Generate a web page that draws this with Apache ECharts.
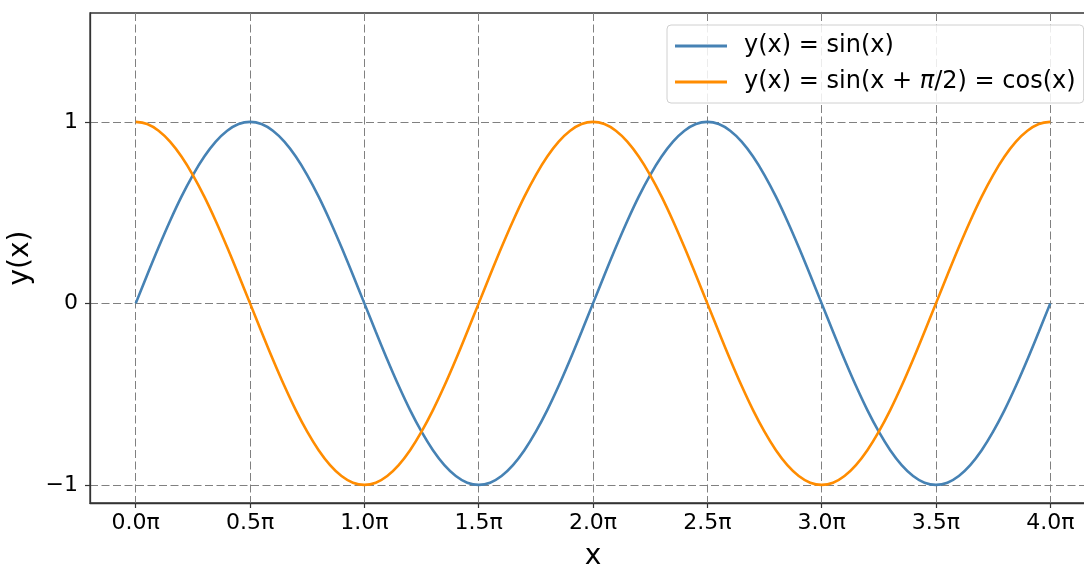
<!DOCTYPE html>
<html>
<head>
<meta charset="utf-8">
<script src="https://cdn.jsdelivr.net/npm/echarts@6/dist/echarts.min.js"></script>
<style>
html,body{margin:0;padding:0;background:#fff;overflow:hidden;}
#chart{width:1084px;height:567px;}
</style>
</head>
<body>
<div id="chart"></div>
<script>
// x positions in units of pi
const xPi = [0,0.05,0.1,0.15,0.2,0.25,0.3,0.35,0.4,0.45,0.5,0.55,0.6,0.65,0.7,0.75,0.8,0.85,0.9,0.95,
  1,1.05,1.1,1.15,1.2,1.25,1.3,1.35,1.4,1.45,1.5,1.55,1.6,1.65,1.7,1.75,1.8,1.85,1.9,1.95,
  2,2.05,2.1,2.15,2.2,2.25,2.3,2.35,2.4,2.45,2.5,2.55,2.6,2.65,2.7,2.75,2.8,2.85,2.9,2.95,
  3,3.05,3.1,3.15,3.2,3.25,3.3,3.35,3.4,3.45,3.5,3.55,3.6,3.65,3.7,3.75,3.8,3.85,3.9,3.95,4];
const sinValues = [0,0.156,0.309,0.454,0.588,0.707,0.809,0.891,0.951,0.988,1,0.988,0.951,0.891,0.809,0.707,0.588,0.454,0.309,0.156,
  0,-0.156,-0.309,-0.454,-0.588,-0.707,-0.809,-0.891,-0.951,-0.988,-1,-0.988,-0.951,-0.891,-0.809,-0.707,-0.588,-0.454,-0.309,-0.156,
  0,0.156,0.309,0.454,0.588,0.707,0.809,0.891,0.951,0.988,1,0.988,0.951,0.891,0.809,0.707,0.588,0.454,0.309,0.156,
  0,-0.156,-0.309,-0.454,-0.588,-0.707,-0.809,-0.891,-0.951,-0.988,-1,-0.988,-0.951,-0.891,-0.809,-0.707,-0.588,-0.454,-0.309,-0.156,0];
const cosValues = [1,0.988,0.951,0.891,0.809,0.707,0.588,0.454,0.309,0.156,0,-0.156,-0.309,-0.454,-0.588,-0.707,-0.809,-0.891,-0.951,-0.988,
  -1,-0.988,-0.951,-0.891,-0.809,-0.707,-0.588,-0.454,-0.309,-0.156,0,0.156,0.309,0.454,0.588,0.707,0.809,0.891,0.951,0.988,
  1,0.988,0.951,0.891,0.809,0.707,0.588,0.454,0.309,0.156,0,-0.156,-0.309,-0.454,-0.588,-0.707,-0.809,-0.891,-0.951,-0.988,
  -1,-0.988,-0.951,-0.891,-0.809,-0.707,-0.588,-0.454,-0.309,-0.156,0,0.156,0.309,0.454,0.588,0.707,0.809,0.891,0.951,0.988,1];
const seriesNames = ['y(x) = sin(x)', 'y(x) = sin(x + \u03C0/2) = cos(x)'];
const xTickValues = [0,0.5,1,1.5,2,2.5,3,3.5,4];
const xTickLabels = ['0.0\u03C0','0.5\u03C0','1.0\u03C0','1.5\u03C0','2.0\u03C0','2.5\u03C0','3.0\u03C0','3.5\u03C0','4.0\u03C0'];
const yTickValues = [-1,0,1];
const yTickLabels = ['\u22121','0','1'];

const FONT = 'DejaVu Sans';
const zip = (xs, ys) => xs.map((x, i) => [x, ys[i]]);
const splitStyle = {show: true, lineStyle: {color: '#808080', width: 1, type: [8, 3.5]}};
const axisLineStyle = {show: true, onZero: false, lineStyle: {color: '#333', width: 1.3}};

// italic pi in legend text, like mathtext
function legendFormatter(name) {
  const parts = name.split('\u03C0');
  if (parts.length === 1) return '{n|' + name + '}';
  return parts.map(p => '{n|' + p + '}').join('{i|\u03C0}');
}

const chart = echarts.init(document.getElementById('chart'), null, {renderer: 'canvas'});
chart.setOption({
  animation: false,
  backgroundColor: '#fff',
  textStyle: {fontFamily: FONT},
  grid: {left: 90, width: 1006, top: 13, height: 490, containLabel: false, outerBoundsMode: 'none',
    show: true, borderColor: '#333', borderWidth: 1.3, backgroundColor: 'transparent'},
  legend: {
    left: 667, top: 25,
    orient: 'vertical',
    padding: [8, 8, 8, 8],
    itemGap: 10,
    itemWidth: 52, itemHeight: 3,
    icon: 'rect',
    borderColor: '#d0d0d0', borderWidth: 1, borderRadius: 4,
    backgroundColor: 'rgba(255,255,255,0.85)',
    formatter: legendFormatter,
    textStyle: {fontFamily: FONT, fontSize: 24, color: '#000', lineHeight: 26, padding: [0, 0, 0, 12],
      rich: {
        n: {fontFamily: FONT, fontSize: 24, color: '#000', lineHeight: 26},
        i: {fontFamily: FONT, fontSize: 24, color: '#000', lineHeight: 26, fontStyle: 'italic'}
      }},
    data: seriesNames
  },
  xAxis: {
    type: 'value', min: -0.2, max: 4.2,
    name: 'x', nameLocation: 'middle', nameGap: 40,
    nameTextStyle: {fontFamily: FONT, fontSize: 28, color: '#000'},
    axisLine: axisLineStyle,
    axisTick: {show: true, inside: false, length: 5, lineStyle: {color: '#333', width: 1.2}, customValues: xTickValues},
    axisLabel: {customValues: xTickValues, fontFamily: FONT, fontSize: 22, color: '#000', margin: 9,
      formatter: v => xTickLabels[xTickValues.indexOf(v)] || ''},
    splitLine: splitStyle
  },
  yAxis: {
    type: 'value', min: -1.1, max: 1.6,
    name: 'y(x)', nameLocation: 'middle', nameGap: 50, nameRotate: 90,
    nameTextStyle: {fontFamily: FONT, fontSize: 28, color: '#000'},
    axisLine: axisLineStyle,
    axisTick: {show: true, inside: false, length: 5, lineStyle: {color: '#333', width: 1.2}, customValues: yTickValues},
    axisLabel: {customValues: yTickValues, fontFamily: FONT, fontSize: 22, color: '#000', margin: 12,
      formatter: v => yTickLabels[yTickValues.indexOf(v)] || ''},
    splitLine: splitStyle
  },
  series: [
    {name: seriesNames[0], type: 'line', data: zip(xPi, sinValues), showSymbol: false, symbol: 'none', smooth: 0.4,
      lineStyle: {color: '#4682B4', width: 2.6}, itemStyle: {color: '#4682B4'}, z: 3},
    {name: seriesNames[1], type: 'line', data: zip(xPi, cosValues), showSymbol: false, symbol: 'none', smooth: 0.4,
      lineStyle: {color: '#FF8C00', width: 2.6}, itemStyle: {color: '#FF8C00'}, z: 4}
  ]
});
</script>
</body>
</html>
